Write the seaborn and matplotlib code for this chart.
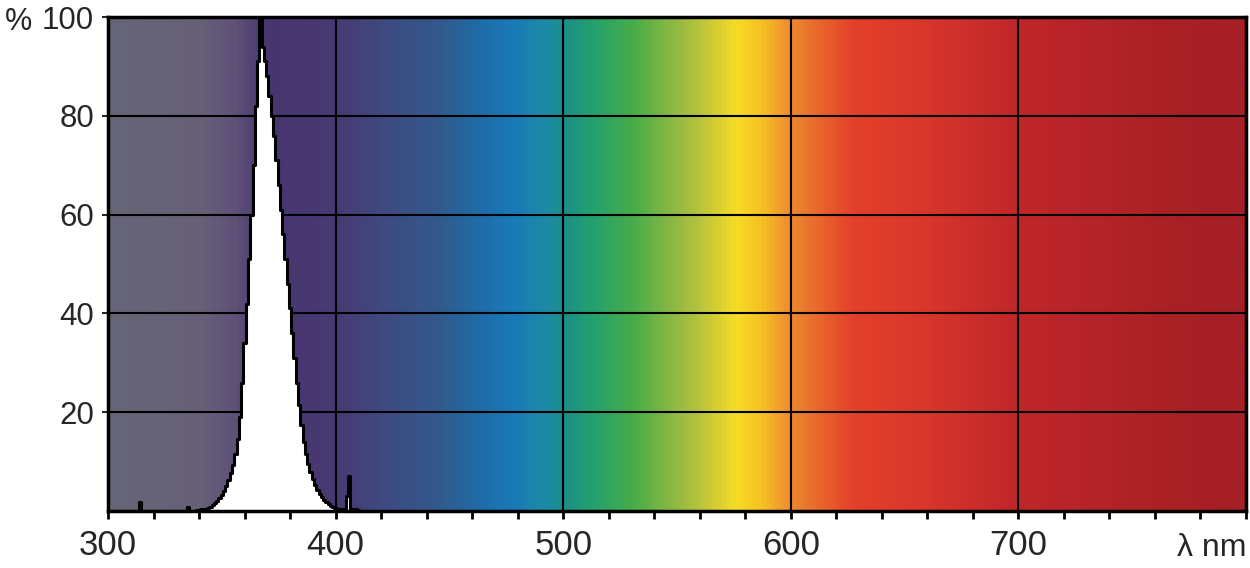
import numpy as np
import matplotlib
matplotlib.use('Agg')
import matplotlib.pyplot as plt
from matplotlib.colors import LinearSegmentedColormap
import pandas as pd
import seaborn as sns

# spectrum (nm -> %)
wavelength = list(range(300, 421))
intensity = [
    0, 0, 0, 0, 0, 0, 0, 0, 0, 0,                  # 300-309
    0, 0, 0, 0, 1.8, 0, 0, 0, 0, 0,                # 310-319
    0, 0, 0, 0, 0, 0, 0, 0, 0, 0,                  # 320-329
    0, 0, 0, 0, 0, 0.8, 0, 0, 0, 0.1,              # 330-339
    0.2, 0.3, 0.4, 0.5, 0.7, 0.9, 1.2, 1.6, 2.0, 2.6,   # 340-349
    3.3, 4.1, 5.0, 6.2, 7.6, 9.3, 11.5, 14.5, 19, 26,   # 350-359
    34, 42, 51, 60, 70, 82, 91, 100, 94, 91,            # 360-369
    88, 84, 80, 76, 71, 66, 61, 56, 51, 46,             # 370-379
    41, 36, 31, 26, 21.5, 17.5, 14, 11.5, 9.5, 7.8,     # 380-389
    6.4, 5.2, 4.3, 3.5, 2.8, 2.2, 1.8, 1.4, 1.1, 0.9,   # 390-399
    0.7, 0.5, 0.4, 0.3, 0.3, 3.0, 7.0, 0.4, 0.3, 0.4,   # 400-409
    0.2, 0, 0, 0, 0, 0, 0, 0, 0, 0,                     # 410-419
    0,                                                  # 420
]

# background colour stops
band_nm = [300, 340, 355, 370, 400, 420, 445, 465, 478, 492, 502,
           512, 530, 548, 562, 576, 588, 600, 615, 628, 660, 700, 730, 770, 800]
band_colors = ['#666577', '#676078', '#5e5078', '#48356f', '#473a72', '#3f4a80',
               '#32598c', '#1c6eab', '#1a7ab8', '#1d8aa5', '#1b9185', '#23a070',
               '#45ac4a', '#8bb843', '#c0c63a', '#f6dc25', '#f5c023', '#ee8a30',
               '#e8602c', '#e3412a', '#d9362c', '#c0262a', '#b62429', '#a92024',
               '#a61f24']

x_ticks = [300, 400, 500, 600, 700]
y_ticks = [20, 40, 60, 80, 100]

df = pd.DataFrame({'nm': wavelength, 'pct': intensity})

sns.set_style('ticks')
plt.rcParams['font.family'] = ['Liberation Sans', 'DejaVu Sans']

fig = plt.figure(figsize=(12.5, 5.68), dpi=100)
ax = fig.add_axes([0.0864, 0.1004, 0.9104, 0.8696])

# spectrum gradient
pos = [(v - 300) / 500 for v in band_nm]
cmap = LinearSegmentedColormap.from_list('spec', list(zip(pos, band_colors)))
grad = np.linspace(0, 1, 1000).reshape(1, -1)
ax.imshow(grad, cmap=cmap, aspect='auto', extent=[300, 800, 0, 100], zorder=0)

for x in x_ticks[1:]:
    ax.axvline(x, color='black', lw=1.5, zorder=1)
for y in y_ticks[:-1]:
    ax.axhline(y, color='black', lw=1.5, zorder=1)

ax.fill_between(df.nm, df.pct, step='mid', color='white', lw=0, zorder=2)
sns.lineplot(data=df, x='nm', y='pct', ax=ax, color='black', lw=2.2,
             drawstyle='steps-mid', zorder=3)

ax.set_xlim(300, 800)
ax.set_ylim(0, 100)
ax.set_xticks(x_ticks)
ax.set_xticks(list(range(300, 801, 20)), minor=True)
ax.set_yticks(y_ticks)
ax.tick_params(axis='x', which='both', length=6, width=2, direction='out',
               labelsize=25, pad=7, color='black')
ax.tick_params(axis='y', length=4, width=1.5, labelsize=22.5, pad=6)
ax.set_xlabel('')
ax.set_ylabel('')
for s in ax.spines.values():
    s.set_linewidth(2.5)
    s.set_color('black')

fig.text(0.004, 0.962, '%', fontsize=22, ha='left', va='center')
ax.text(800, -4.5, 'λ nm', fontsize=23, ha='right', va='top',
        transform=ax.transData, clip_on=False)

fig.savefig('out.png', dpi=100)
